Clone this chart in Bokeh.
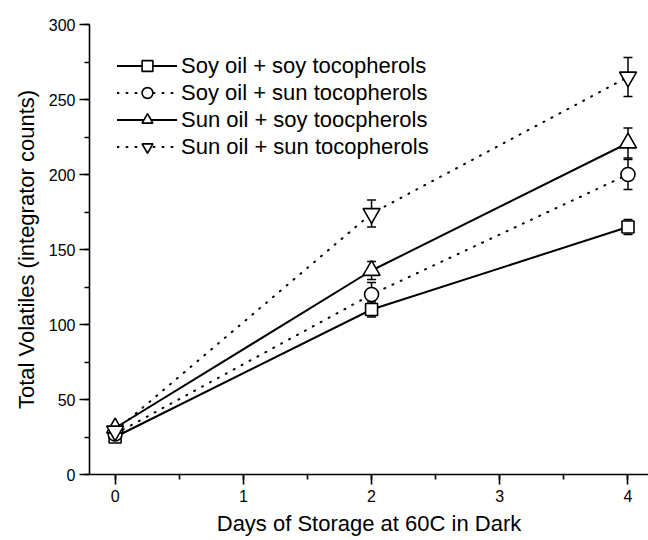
from bokeh.plotting import figure
from bokeh.models import (Range1d, SingleIntervalTicker, Whisker, TeeHead,
                          ColumnDataSource, Legend, LegendItem)
from bokeh.embed import file_html
from bokeh.resources import INLINE

days = [0, 2, 4]
soy_soy = [25, 110, 165]
soy_soy_err = [2, 5, 5]
soy_sun = [27, 120, 200]
soy_sun_err = [2, 8, 10]
sun_soy = [31, 136, 221]
sun_soy_err = [2, 6, 10]
sun_sun = [29, 174, 265]
sun_sun_err = [2, 9, 13]

labels = ["Soy oil + soy tocopherols", "Soy oil + sun tocopherols",
          "Sun oil + soy toocpherols", "Sun oil + sun tocopherols"]
markers = ["square", "circle", "triangle", "inverted_triangle"]
sizes = [12, 14, 17, 17]
dashes = ["solid", "1 8", "solid", "1 8"]
series = [(soy_soy, soy_soy_err), (soy_sun, soy_sun_err),
          (sun_soy, sun_soy_err), (sun_sun, sun_sun_err)]

FONT = "Liberation Sans"

p = figure(width=648, height=540, output_backend="svg", toolbar_location=None,
           x_range=Range1d(-0.2, 4.16), y_range=Range1d(0, 300),
           min_border_left=89, min_border_top=24, min_border_right=0,
           min_border_bottom=66)
p.outline_line_color = None
p.xgrid.visible = False
p.ygrid.visible = False
p.background_fill_color = "white"

items = []
for (vals, errs), lab, mk, sz, dash in zip(series, labels, markers, sizes, dashes):
    src = ColumnDataSource(dict(x=days, y=vals,
                                lo=[v - e for v, e in zip(vals, errs)],
                                hi=[v + e for v, e in zip(vals, errs)]))
    w = Whisker(source=src, base="x", upper="hi", lower="lo", dimension="height",
                line_color="black", line_width=1.5, level="underlay",
                upper_head=TeeHead(size=9, line_width=1.5, line_color="black"),
                lower_head=TeeHead(size=9, line_width=1.5, line_color="black"))
    p.add_layout(w)
    ln = p.line("x", "y", source=src, line_color="black", line_width=2,
                line_dash=dash, line_cap="round")
    sc = p.scatter("x", "y", source=src, marker=mk, size=sz, line_color="black",
                   line_width=1.6, fill_color="white")
    items.append(LegendItem(label=lab, renderers=[ln, sc]))

legend = Legend(items=items, location=(28, 314), margin=0, padding=0,
                spacing=0, glyph_width=60, glyph_height=27, label_height=27,
                label_standoff=4, border_line_color=None,
                background_fill_alpha=0,
                label_text_font=FONT, label_text_font_size="22px",
                label_text_color="black")
p.add_layout(legend)

for ax in (p.xaxis[0], p.yaxis[0]):
    ax.axis_line_width = 1.6
    ax.axis_line_color = "black"
    ax.major_tick_line_width = 1.6
    ax.minor_tick_line_width = 1.6
    ax.major_tick_out = 10
    ax.major_tick_in = 0
    ax.minor_tick_out = 5
    ax.minor_tick_in = 0
    ax.major_label_text_font = FONT
    ax.major_label_text_font_size = "16px"
    ax.major_label_text_color = "black"
    ax.axis_label_text_font = FONT
    ax.axis_label_text_font_size = "22px"
    ax.axis_label_text_font_style = "normal"
    ax.axis_label_text_color = "black"

p.xaxis.ticker = SingleIntervalTicker(interval=1, num_minor_ticks=2)
p.yaxis.ticker = SingleIntervalTicker(interval=50, num_minor_ticks=2)
p.xaxis.axis_label = "Days of Storage at 60C in Dark"
p.yaxis.axis_label = "Total Volatiles (integrator counts)"
p.xaxis.major_label_standoff = 5
p.yaxis.major_label_standoff = 4
p.xaxis.axis_label_standoff = 6
p.yaxis.axis_label_standoff = 7

open("out.html", "w").write(file_html(p, INLINE))
